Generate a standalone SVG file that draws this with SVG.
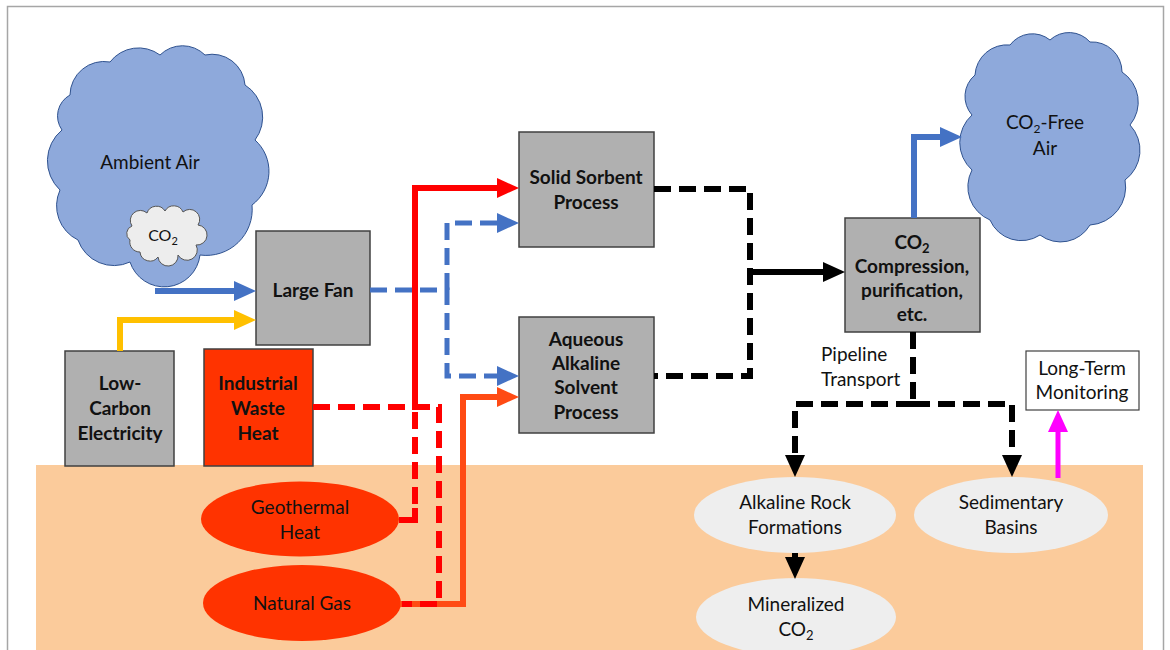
<svg xmlns="http://www.w3.org/2000/svg" width="1170" height="650" viewBox="0 0 1170 650">
<style>
text{font-family:Lato,"Liberation Sans",sans-serif;fill:#111;text-anchor:middle}
.b{font-weight:bold;font-size:19px}
.r{font-size:19px}
.box{fill:#B0B0B0;stroke:#404040;stroke-width:1.5}
.cloud{fill:#8EA9DB;stroke:#2F528F;stroke-width:1}
.ell{fill:#EEEEEE}
.hot{fill:#FF3300}
.c{fill:none;stroke-linejoin:miter}
.blue{stroke:#4472C4}
.red{stroke:#FF0000}
.org{stroke:#FF4B14}
.blk{stroke:#000}
.ylw{stroke:#FFC000}
.mag{stroke:#FF00FF}
.dash{stroke-dasharray:17 8}
</style>
<defs>
<marker id="ab" viewBox="0 0 22 20" refX="2" refY="10" markerWidth="22" markerHeight="20" markerUnits="userSpaceOnUse" orient="auto"><path d="M0,0 L22,10 L0,20 Z" fill="#4472C4"/></marker>
<marker id="ar" viewBox="0 0 22 20" refX="2" refY="10" markerWidth="22" markerHeight="20" markerUnits="userSpaceOnUse" orient="auto"><path d="M0,0 L22,10 L0,20 Z" fill="#FF0000"/></marker>
<marker id="ao" viewBox="0 0 22 20" refX="2" refY="10" markerWidth="22" markerHeight="20" markerUnits="userSpaceOnUse" orient="auto"><path d="M0,0 L22,10 L0,20 Z" fill="#FF4B14"/></marker>
<marker id="ak" viewBox="0 0 22 20" refX="2" refY="10" markerWidth="22" markerHeight="20" markerUnits="userSpaceOnUse" orient="auto"><path d="M0,0 L22,10 L0,20 Z" fill="#000"/></marker>
<marker id="ay" viewBox="0 0 22 20" refX="2" refY="10" markerWidth="22" markerHeight="20" markerUnits="userSpaceOnUse" orient="auto"><path d="M0,0 L22,10 L0,20 Z" fill="#FFC000"/></marker>
<marker id="am" viewBox="0 0 22 20" refX="2" refY="10" markerWidth="22" markerHeight="20" markerUnits="userSpaceOnUse" orient="auto"><path d="M0,0 L22,10 L0,20 Z" fill="#FF00FF"/></marker>
</defs>
<rect x="0" y="0" width="1170" height="650" fill="#fff"/>
<rect x="7.5" y="6.5" width="1156" height="680" fill="none" stroke="#A6A6A6" stroke-width="1.5"/>
<rect id="ground" x="36" y="465" width="1107" height="200" fill="#FBCB9B"/>

<g id="ambient-air">
<path class="cloud" d="M70,95 A34,34 0 0 1 110,62 A36,36 0 0 1 160,55 A32,32 0 0 1 205,55 A33,33 0 0 1 245,85 A38,38 0 0 1 255,140 A42,42 0 0 1 252,205 A46,46 0 0 1 200,255 A36,36 0 0 1 130,262 A38,38 0 0 1 78,240 A38,38 0 0 1 60,190 A40,40 0 0 1 62,130 A24,24 0 0 1 70,95 Z"/>
<text class="r" x="150" y="169">Ambient Air</text>
</g>
<g id="co2-cloud">
<path fill="#EDEDED" stroke="#555" stroke-width="1" d="M132,226 A10,10 0 0 1 147,213 A10,10 0 0 1 165,211 A10,10 0 0 1 183,212 A10,10 0 0 1 198,225 A10,10 0 0 1 196,245 A10,10 0 0 1 178,255 A10,10 0 0 1 158,257 A10,10 0 0 1 140,252 A10,10 0 0 1 130,240 A8,8 0 0 1 132,226 Z"/>
<text x="163" y="241" style="font-size:16px">CO<tspan font-size="11" dy="4">2</tspan></text>
</g>
<g id="co2-free-air">
<path class="cloud" d="M975,75 A32,32 0 0 1 1010,45 A28,28 0 0 1 1050,40 A28,28 0 0 1 1090,42 A30,30 0 0 1 1122,72 A36,36 0 0 1 1130,125 A37,37 0 0 1 1125,180 A38,38 0 0 1 1090,225 A34,34 0 0 1 1040,235 A34,34 0 0 1 990,220 A36,36 0 0 1 972,170 A37,37 0 0 1 972,115 A28,28 0 0 1 975,75 Z"/>
<text class="r" x="1045" y="129">CO<tspan font-size="12" dy="4">2</tspan><tspan dy="-4">-Free</tspan></text>
<text class="r" x="1045" y="155">Air</text>
</g>
<g id="large-fan">
<rect class="box" x="256" y="231" width="114" height="114"/>
<text class="b" x="313" y="297">Large Fan</text>
</g>
<g id="low-carbon">
<rect class="box" x="65" y="351" width="109" height="115"/>
<text class="b" x="120" y="390">Low-</text>
<text class="b" x="120" y="415">Carbon</text>
<text class="b" x="120" y="440">Electricity</text>
</g>
<g id="industrial-waste-heat">
<rect class="hot" stroke="#404040" stroke-width="1.5" x="204" y="349" width="109" height="117"/>
<text class="b" x="258" y="390">Industrial</text>
<text class="b" x="258" y="415">Waste</text>
<text class="b" x="258" y="440">Heat</text>
</g>
<g id="geothermal">
<ellipse class="hot" cx="300" cy="519" rx="99" ry="37.5"/>
<text class="r" x="300" y="514">Geothermal</text>
<text class="r" x="300" y="539">Heat</text>
</g>
<g id="natural-gas">
<ellipse class="hot" cx="302" cy="603" rx="99" ry="38"/>
<text class="r" x="302" y="610">Natural Gas</text>
</g>
<g id="solid-sorbent">
<rect class="box" x="519" y="132" width="135" height="115"/>
<text class="b" x="586" y="184">Solid Sorbent</text>
<text class="b" x="586" y="209">Process</text>
</g>
<g id="aqueous">
<rect class="box" x="519" y="317" width="135" height="116"/>
<text class="b" x="586" y="346">Aqueous</text>
<text class="b" x="586" y="370">Alkaline</text>
<text class="b" x="586" y="394">Solvent</text>
<text class="b" x="586" y="419">Process</text>
</g>
<g id="compression">
<rect class="box" x="845" y="218" width="135" height="114"/>
<text class="b" x="912" y="249">CO<tspan font-size="13" dy="4">2</tspan></text>
<text class="b" x="912" y="273">Compression,</text>
<text class="b" x="912" y="297">purification,</text>
<text class="b" x="912" y="321">etc.</text>
</g>
<g id="long-term-monitoring">
<rect x="1026" y="351" width="113" height="59" fill="#fff" stroke="#404040" stroke-width="1.2"/>
<text class="r" x="1082" y="375">Long-Term</text>
<text class="r" x="1082" y="399">Monitoring</text>
</g>
<g id="alkaline-rock">
<ellipse class="ell" cx="795" cy="515" rx="101" ry="38"/>
<text class="r" x="795" y="509">Alkaline Rock</text>
<text class="r" x="795" y="534">Formations</text>
</g>
<g id="sedimentary">
<ellipse class="ell" cx="1011" cy="515" rx="97" ry="38"/>
<text class="r" x="1011" y="509">Sedimentary</text>
<text class="r" x="1011" y="534">Basins</text>
</g>
<g id="mineralized">
<ellipse class="ell" cx="796" cy="617" rx="100" ry="39"/>
<text class="r" x="796" y="611">Mineralized</text>
<text class="r" x="796" y="636">CO<tspan font-size="13" dy="4">2</tspan></text>
</g>
<g id="pipeline-label">
<text class="r" style="text-anchor:start" x="821" y="361">Pipeline</text>
<text class="r" style="text-anchor:start" x="821" y="386">Transport</text>
</g>

<g id="connectors">
<path class="c blue" stroke-width="6" d="M155,291 H236" marker-end="url(#ab)"/>
<path class="c ylw" stroke-width="6" d="M120,351 V320 H236" marker-end="url(#ay)"/>
<path class="c blue dash" stroke-width="5" d="M447,290 V223 H499" marker-end="url(#ab)"/>
<path class="c blue dash" stroke-width="5" d="M370,290 H447 V376 H499" marker-end="url(#ab)"/>
<path class="c red" stroke-width="6" d="M415,410 V188 H499" marker-end="url(#ar)"/>
<path class="c red" stroke-width="6" d="M399,520 H415 V508"/>
<path class="c org" stroke-width="6" d="M400,604 H463 V397 H499" marker-end="url(#ao)"/>
<path class="c red dash" stroke-width="6" d="M313,407 H439 V604 H402"/>
<path class="c red dash" stroke-width="6" d="M415,412 V510"/>
<path class="c blk dash" stroke-width="6" d="M654,189 H750 V376 H654"/>
<path class="c blk" stroke-width="6" d="M750,272 H825" marker-end="url(#ak)"/>
<path class="c blue" stroke-width="6" d="M914,218 V137 H942" marker-end="url(#ab)"/>
<path class="c blk dash" stroke-width="6" d="M913,332 V404"/>
<path class="c blk dash" stroke-width="6" d="M913,404 H795 V457" marker-end="url(#ak)"/>
<path class="c blk dash" stroke-width="6" d="M913,404 H1012 V457" marker-end="url(#ak)"/>
<path class="c blk" stroke-width="6" d="M795,553 V559" marker-end="url(#ak)"/>
<path class="c mag" stroke-width="5" d="M1058,478 V430" marker-end="url(#am)"/>
</g>
</svg>
